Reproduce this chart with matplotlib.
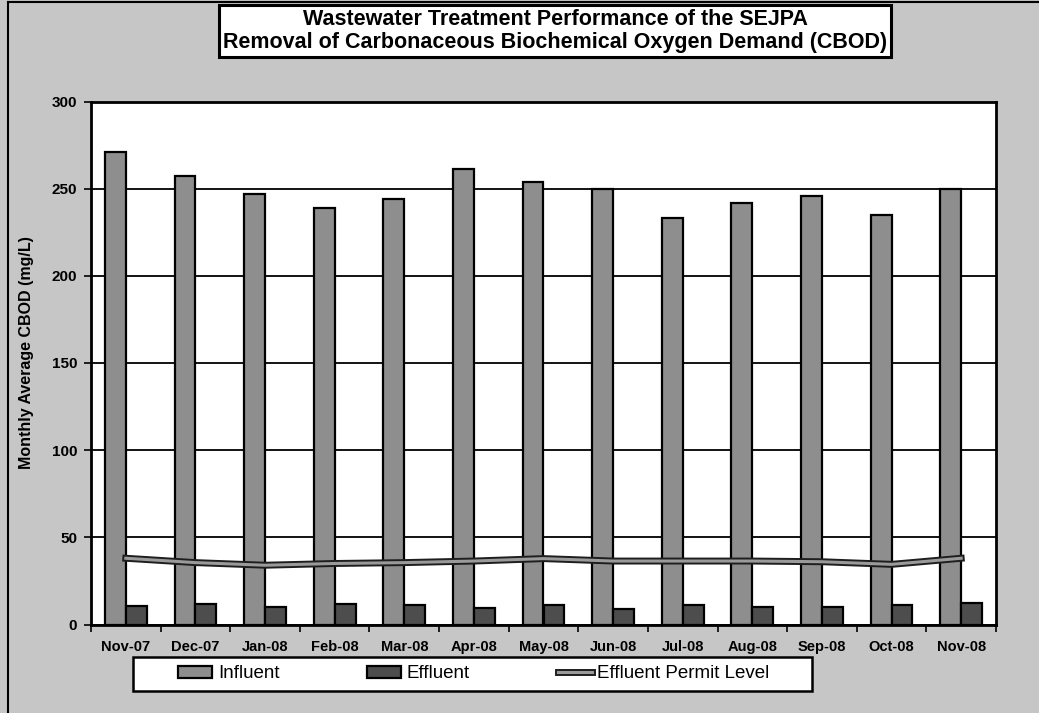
import matplotlib.pyplot as plt
import matplotlib.patheffects as pe
from matplotlib.patches import Rectangle
from matplotlib.lines import Line2D
import numpy as np

# monthly values
months = ['Nov-07', 'Dec-07', 'Jan-08', 'Feb-08', 'Mar-08', 'Apr-08', 'May-08',
          'Jun-08', 'Jul-08', 'Aug-08', 'Sep-08', 'Oct-08', 'Nov-08']
influent = [271, 257, 247, 239, 244, 261, 254, 250, 233, 242, 246, 235, 250]
effluent = [10.7, 11.7, 10.1, 11.5, 11.1, 9.2, 11.1, 8.8, 11.1, 9.9, 10.1, 11.1, 12.6]
permit_level = [38, 35.5, 34, 35, 35.5, 36.4, 37.8, 36.4, 36.4, 36.4, 36, 34.5, 38]
y_ticks = [0, 50, 100, 150, 200, 250, 300]

plt.rcParams['font.family'] = ['Liberation Sans', 'DejaVu Sans']

fig = plt.figure(figsize=(10.39, 7.13), dpi=100, facecolor='#c6c6c6')
ax = fig.add_axes([91 / 1039, 1 - 624.5 / 713, 905 / 1039, 523 / 713])
ax.set_facecolor('white')

x = np.arange(len(months))
bw = 0.30
b1 = ax.bar(x - bw / 2, influent, bw, color='#8e8e8e', edgecolor='black', linewidth=1.6,
            zorder=3, label='Influent')
b2 = ax.bar(x + bw / 2, effluent, bw, color='#4d4d4d', edgecolor='black', linewidth=1.6,
            zorder=3, label='Effluent')
ln, = ax.plot(x, permit_level, color='#9a9a9a', linewidth=2.2, zorder=4,
              path_effects=[pe.Stroke(linewidth=5, foreground='#1e1e1e'), pe.Normal()],
              label='Effluent Permit Level')

ax.set_xlim(-0.5, len(months) - 0.5)
ax.set_ylim(0, 300)
ax.set_yticks(y_ticks)
ax.set_yticklabels([str(v) for v in y_ticks], fontsize=11, fontweight='bold')
ax.tick_params(axis='y', direction='out', length=5, width=1.2, pad=5)

# category ticks on boundaries, labels in the middle
ax.set_xticks(np.arange(-0.5, len(months)), minor=False)
ax.set_xticklabels([])
ax.set_xticks(x, minor=True)
ax.set_xticklabels(months, minor=True, fontsize=10.5, fontweight='bold')
ax.tick_params(axis='x', which='major', direction='out', length=5, width=1.2)
ax.tick_params(axis='x', which='minor', length=0, pad=11)

ax.yaxis.grid(True, color='black', linewidth=1.3, zorder=0)
ax.set_axisbelow(True)
for s in ax.spines.values():
    s.set_linewidth(2)

ax.set_ylabel('Monthly Average CBOD (mg/L)', fontsize=11.5, fontweight='bold')
ax.yaxis.set_label_coords(-0.063, 0.52)

# title box
fig.text(555 / 1039, 1 - 31 / 713,
         'Wastewater Treatment Performance of the SEJPA\n'
         'Removal of Carbonaceous Biochemical Oxygen Demand (CBOD)',
         ha='center', va='center', fontsize=15.5, fontweight='bold', linespacing=1.12,
         bbox=dict(boxstyle='square,pad=0.2', facecolor='white', edgecolor='black', linewidth=2.2))

# legend box drawn by hand, legend entries inside
fig.patches.append(Rectangle((133 / 1039, 1 - 691 / 713), 679 / 1039, 34 / 713,
                             transform=fig.transFigure, facecolor='white',
                             edgecolor='black', linewidth=1.8, zorder=1))
fig.legend([b1, b2, ln], ['Influent', 'Effluent', 'Effluent Permit Level'],
           loc='center', bbox_to_anchor=(474 / 1039, 1 - 674 / 713),
           ncol=3, frameon=False, fontsize=13.5, columnspacing=4.7,
           handlelength=1.8, handleheight=0.6, handletextpad=0.3)

# outer border of the scanned page
fig.add_artist(Line2D([8 / 1039, 8 / 1039], [0, 1 - 2 / 713], transform=fig.transFigure,
                      color='black', linewidth=1.5))
fig.add_artist(Line2D([8 / 1039, 1], [1 - 2 / 713, 1 - 2 / 713], transform=fig.transFigure,
                      color='black', linewidth=1.5))

fig.savefig('out.png', dpi=100, facecolor=fig.get_facecolor())
